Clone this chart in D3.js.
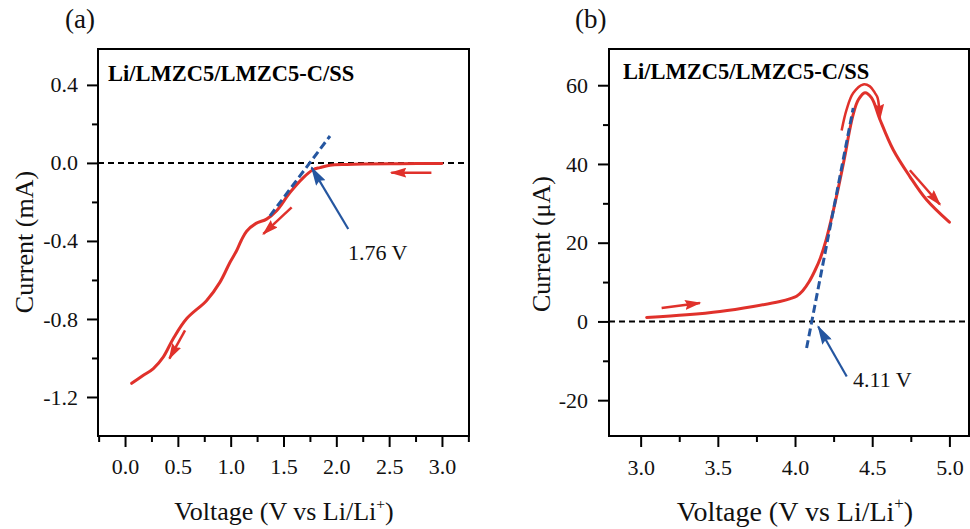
<!DOCTYPE html>
<html><head><meta charset="utf-8">
<script src="https://cdn.jsdelivr.net/npm/d3@7"></script>
<style>
html,body{margin:0;padding:0;background:#fff;}
svg{display:block;font-family:"Liberation Serif","Times New Roman",serif;}
</style></head><body>
<svg id="chart" width="970" height="529"></svg>
<script>
// ---------- Panel (a) data ----------
const voltageA = [0.063, 0.17, 0.268, 0.363, 0.457, 0.584, 0.773, 0.899, 0.994, 1.057, 1.10, 1.151, 1.24, 1.34, 1.435, 1.561, 1.688, 1.78, 1.845, 1.94, 2.10, 2.255, 2.6, 3.0];
const currentA = [-1.13, -1.09, -1.054, -0.994, -0.90, -0.798, -0.705, -0.611, -0.509, -0.449, -0.398, -0.35, -0.31, -0.288, -0.245, -0.152, -0.075, -0.035, -0.024, -0.012, -0.008, -0.006, -0.004, -0.003];
const xTicksA = [0, 0.5, 1.0, 1.5, 2.0, 2.5, 3.0];
const xMinorA = [-0.25, 0.25, 0.75, 1.25, 1.75, 2.25, 2.75, 3.25];
const yTicksA = [-1.2, -0.8, -0.4, 0.0, 0.4];
const yMinorA = [-1.0, -0.6, -0.2, 0.2];
const tangentA = [[1.372, -0.271], [1.94, 0.138]];
const redArrowsA = [[[2.9, -0.05], [2.52, -0.05]], [[1.577, -0.228], [1.309, -0.364]], [[0.568, -0.858], [0.42, -1.003]]];
const onsetArrowA = [[2.113, -0.339], [1.766, -0.024]];
const onsetLabelA = {v: 2.11, i: -0.498, text: "1.76 V"};

// ---------- Panel (b) data ----------
const voltageB = [3.039, 3.298, 3.514, 3.729, 3.902, 3.97, 4.01, 4.05, 4.09, 4.13, 4.165, 4.20, 4.24, 4.28, 4.323, 4.351, 4.377, 4.41, 4.453, 4.496, 4.55, 4.636, 4.744, 4.852, 5.0];
const currentB = [1.02, 1.7, 2.54, 3.81, 5.08, 5.8, 6.4, 7.8, 10.0, 13.0, 16.2, 20.5, 26.8, 33.8, 42.0, 48.0, 52.6, 56.3, 58.1, 56.8, 51.3, 43.6, 36.8, 30.9, 25.2];
const xTicksB = [3.0, 3.5, 4.0, 4.5, 5.0];
const xMinorB = [3.25, 3.75, 4.25, 4.75];
const yTicksB = [-20, 0, 20, 40, 60];
const yMinorB = [-10, 10, 30, 50];
const tangentB = [[4.075, -6.77], [4.377, 54.2]];
const redArrowsB = [[[3.136, 3.4], [3.384, 4.67]], [[4.744, 38.4], [4.939, 29.7]]];
const curvedArrowB = [[4.302, 48.5], [4.334, 53.8], [4.377, 58.0], [4.442, 60.2], [4.485, 59.7], [4.518, 58.0], [4.535, 56.8], [4.55, 51.4]];
const onsetArrowB = [[4.335, -13.98], [4.15, -1.27]];
const onsetLabelB = {v: 4.376, i: -16.65, text: "4.11 V"};

const cellLabel = "Li/LMZC5/LMZC5-C/SS";

const RED = "#e0312b", BLUE = "#2556a0";
const FONT = "'Liberation Serif','Times New Roman',serif";
const svg = d3.select("#chart");
const defs = svg.append("defs");
function marker(id, color, len, wid) {
  defs.append("marker").attr("id", id)
    .attr("markerUnits", "userSpaceOnUse")
    .attr("viewBox", `${-len} ${-wid/2} ${len + 2} ${wid}`)
    .attr("markerWidth", len + 2).attr("markerHeight", wid)
    .attr("refX", 0).attr("refY", 0).attr("orient", "auto")
    .append("path").attr("d", `M1.5,0 L${-len},${-wid/2} L${-len*0.85},0 L${-len},${wid/2} Z`).attr("fill", color);
}
marker("headRed", RED, 15, 10);
marker("headBlue", BLUE, 18, 11);

function panel(o) {
  const g = svg.append("g");
  const x = d3.scaleLinear().domain(o.xDomain).range([o.left, o.right]);
  const y = d3.scaleLinear().domain(o.yDomain).range([o.bottom, o.top]);
  const straight = d3.line().x(d => x(d[0])).y(d => y(d[1]));
  const smooth = d3.line().x(d => x(d[0])).y(d => y(d[1])).curve(d3.curveCatmullRom.alpha(0.5));

  // zero line
  g.append("line").attr("x1", o.left).attr("x2", o.right)
    .attr("y1", y(0)).attr("y2", y(0))
    .attr("stroke", "#000").attr("stroke-width", 2).attr("stroke-dasharray", "6,4");

  // curve
  g.append("path").datum(d3.zip(o.volt, o.curr))
    .attr("d", smooth)
    .attr("fill", "none").attr("stroke", RED).attr("stroke-width", 3)
    .attr("stroke-linecap", "round").attr("stroke-linejoin", "round");

  // tangent
  g.append("path").datum(o.tangent).attr("d", straight)
    .attr("fill", "none").attr("stroke", BLUE).attr("stroke-width", 3).attr("stroke-dasharray", "8,4");

  // red arrows
  o.redArrows.forEach(a => {
    g.append("path").datum(a).attr("d", straight)
      .attr("fill", "none").attr("stroke", RED).attr("stroke-width", 2.5).attr("marker-end", "url(#headRed)");
  });
  if (o.curved) {
    g.append("path").datum(o.curved).attr("d", smooth)
      .attr("fill", "none").attr("stroke", RED).attr("stroke-width", 2.5).attr("marker-end", "url(#headRed)");
  }
  // onset arrow
  g.append("path").datum(o.onsetArrow).attr("d", straight)
    .attr("fill", "none").attr("stroke", BLUE).attr("stroke-width", 2.2).attr("marker-end", "url(#headBlue)");
  g.append("text").attr("x", x(o.onsetLabel.v)).attr("y", y(o.onsetLabel.i))
    .attr("font-size", 22).attr("fill", "#111").text(o.onsetLabel.text);

  // axes
  function styleAxis(sel) {
    sel.select(".domain").remove();
    sel.attr("font-family", FONT).attr("font-size", 22);
    sel.selectAll("line").attr("stroke", "#000").attr("stroke-width", 2);
    sel.selectAll("text").attr("fill", "#111").style("font-family", FONT);
  }
  g.append("g").attr("transform", `translate(0,${o.bottom})`)
    .call(d3.axisBottom(x).tickValues(o.xTicks).tickFormat(o.xFmt).tickSize(11).tickPadding(o.xPad).tickSizeOuter(0))
    .call(styleAxis);
  g.append("g").attr("transform", `translate(0,${o.bottom})`)
    .call(d3.axisBottom(x).tickValues(o.xMinor).tickFormat("").tickSize(6).tickSizeOuter(0))
    .call(styleAxis);
  g.append("g").attr("transform", `translate(${o.left},0)`)
    .call(d3.axisLeft(y).tickValues(o.yTicks).tickFormat(o.yFmt).tickSize(11).tickPadding(o.yPad).tickSizeOuter(0))
    .call(styleAxis);
  g.append("g").attr("transform", `translate(${o.left},0)`)
    .call(d3.axisLeft(y).tickValues(o.yMinor).tickFormat("").tickSize(6).tickSizeOuter(0))
    .call(styleAxis);

  // frame
  g.append("rect").attr("x", o.left).attr("y", o.top)
    .attr("width", o.right - o.left).attr("height", o.bottom - o.top)
    .attr("fill", "none").attr("stroke", "#000").attr("stroke-width", 2);

  // cell label
  g.append("text").attr("x", o.left + o.labelDx).attr("y", o.labelY)
    .attr("font-size", 22.5).attr("font-weight", "bold").attr("fill", "#000").text(cellLabel);

  // panel letter
  g.append("text").attr("x", o.letterX).attr("y", 28).attr("font-size", 27).attr("fill", "#111").text(o.letter);

  // x title
  const xt = g.append("text").attr("x", o.xTitleX).attr("y", o.xTitleY).attr("text-anchor", "middle")
    .attr("font-size", o.xTitleSize).attr("fill", "#111");
  xt.append("tspan").text("Voltage (V vs Li/Li");
  xt.append("tspan").attr("font-size", o.xTitleSize * 0.6).attr("dy", -o.xTitleSize * 0.42).text("+");
  xt.append("tspan").attr("dy", o.xTitleSize * 0.42).text(")");

  // y title
  g.append("text").attr("transform", `translate(${o.yTitleX},${o.yTitleY}) rotate(-90)`)
    .attr("text-anchor", "middle").attr("font-size", 26).attr("fill", "#111").text(o.yTitle);
}

panel({
  left: 98, right: 469, top: 49, bottom: 436,
  xDomain: [-0.256, 3.256], yDomain: [-1.4, 0.584],
  volt: voltageA, curr: currentA,
  xTicks: xTicksA, xMinor: xMinorA, yTicks: yTicksA, yMinor: yMinorA,
  xFmt: d => d.toFixed(1), yFmt: d => d.toFixed(1), xPad: 11, yPad: 9,
  tangent: tangentA, redArrows: redArrowsA, onsetArrow: onsetArrowA, onsetLabel: onsetLabelA,
  labelDx: 10, labelY: 81, letter: "(a)", letterX: 65,
  xTitleX: 284, xTitleY: 520, xTitleSize: 26,
  yTitle: "Current (mA)", yTitleX: 33, yTitleY: 242
});

panel({
  left: 609, right: 969, top: 49, bottom: 436,
  xDomain: [2.795, 5.127], yDomain: [-29.1, 69.2],
  volt: voltageB, curr: currentB,
  xTicks: xTicksB, xMinor: xMinorB, yTicks: yTicksB, yMinor: yMinorB,
  xFmt: d => d.toFixed(1), yFmt: d => String(d), xPad: 12, yPad: 10,
  tangent: tangentB, redArrows: redArrowsB, curved: curvedArrowB, onsetArrow: onsetArrowB, onsetLabel: onsetLabelB,
  labelDx: 14, labelY: 79, letter: "(b)", letterX: 575,
  xTitleX: 795, xTitleY: 521, xTitleSize: 28,
  yTitle: "Current (\u03BCA)", yTitleX: 550, yTitleY: 244
});
</script>
</body></html>
